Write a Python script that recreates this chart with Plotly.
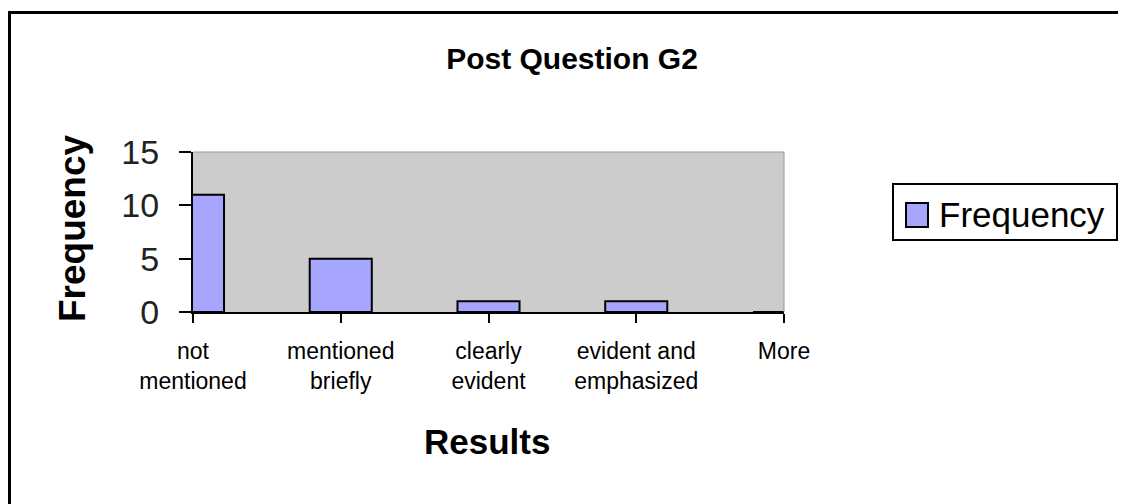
import plotly.graph_objects as go

categories = ["not mentioned", "mentioned briefly", "clearly evident",
              "evident and emphasized", "More"]
tick_labels = ["not<br>mentioned", "mentioned<br>briefly", "clearly<br>evident",
               "evident and<br>emphasized", "More"]
frequency = [11, 5, 1, 1, 0]
series_name = "Frequency"

W, H = 1126, 504
OFF = 8  # page margin around the plot div
# plot area edges, page pixels
L, R, T, B = 193, 784, 152, 312

def px(x):
    return (x - L) / (R - L)

def py(y):
    return (B - y) / (B - T)

BAR = "#A6A6FF"
FONT = "Liberation Sans, Arial, sans-serif"

fig = go.Figure()
fig.add_trace(go.Bar(
    x=categories,
    y=frequency,
    name=series_name,
    width=0.42,
    marker=dict(color=BAR, line=dict(color="black", width=2)),
    showlegend=False,
))

fig.update_layout(
    width=W, height=H, autosize=False,
    margin=dict(l=L - OFF, r=W - (R - OFF), t=T - OFF, b=H - (B - OFF), pad=0),
    paper_bgcolor="white",
    plot_bgcolor="#CCCCCC",
    font=dict(family=FONT, color="black"),
    title=dict(text="<b>Post Question G2</b>", x=(572 - OFF) / W, y=1 - (58 - OFF) / H,
               xref="container", yref="container",
               xanchor="center", yanchor="middle",
               font=dict(size=30, family=FONT, color="black")),
)

fig.update_xaxes(
    type="category", range=[0, 4],
    tickvals=categories, ticktext=tick_labels,
    tickfont=dict(size=23), ticklabelstandoff=8,
    showline=True, linecolor="black", linewidth=2,
    ticks="outside", ticklen=9, tickwidth=2, tickcolor="black",
    showgrid=False,
)
fig.update_yaxes(
    range=[0, 15], dtick=5,
    tickfont=dict(size=34, color="#222"), ticklabelstandoff=13,
    showline=True, linecolor="black", linewidth=2,
    ticks="outside", ticklen=12, tickwidth=2, tickcolor="black",
    showgrid=False, zeroline=False,
)

# grey plot-area frame (top and right)
fig.add_shape(type="line", xref="paper", yref="paper", x0=0, x1=1, y0=1, y1=1,
              line=dict(color="#9A9A9A", width=1))
fig.add_shape(type="line", xref="paper", yref="paper", x0=1, x1=1, y0=0, y1=1,
              line=dict(color="#9A9A9A", width=1))

# chart border
fig.add_shape(type="rect", xref="paper", yref="paper",
              x0=px(9.5), x1=px(1150), y0=py(12.5), y1=py(530),
              line=dict(color="black", width=3))

# axis titles
fig.add_annotation(text="<b>Frequency</b>", xref="paper", yref="paper",
                   x=px(72), y=py(228), textangle=-90, showarrow=False,
                   xanchor="center", yanchor="middle", font=dict(size=37))
fig.add_annotation(text="<b>Results</b>", xref="paper", yref="paper",
                   x=px(487), y=py(441), showarrow=False,
                   xanchor="center", yanchor="middle", font=dict(size=35))

# legend box
fig.add_shape(type="rect", xref="paper", yref="paper",
              x0=px(893), x1=px(1117), y0=py(184), y1=py(240),
              line=dict(color="black", width=2), fillcolor="white")
fig.add_shape(type="rect", xref="paper", yref="paper",
              x0=px(906), x1=px(928), y0=py(203), y1=py(227),
              line=dict(color="black", width=2), fillcolor=BAR)
fig.add_annotation(text=series_name, xref="paper", yref="paper",
                   x=px(937), y=py(214), showarrow=False,
                   xanchor="left", yanchor="middle", font=dict(size=35))

fig.write_html("out.html")
